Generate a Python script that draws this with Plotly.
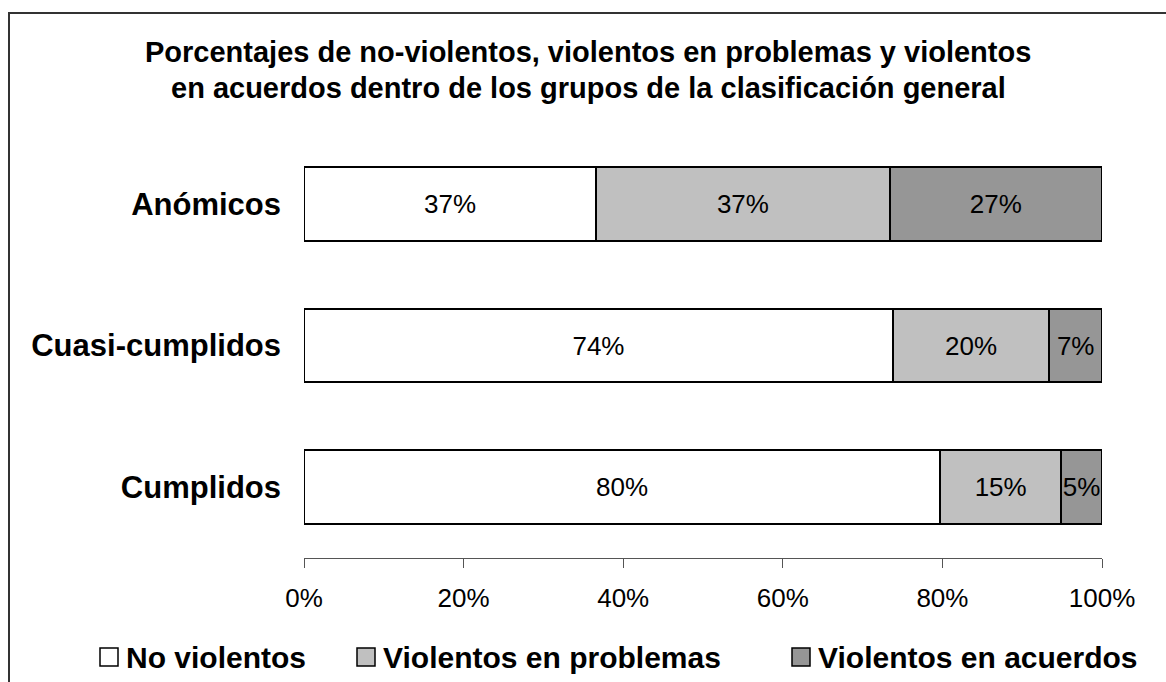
import plotly.graph_objects as go

# Groups of the general classification (top to bottom)
categories = ["Anómicos", "Cuasi-cumplidos", "Cumplidos"]

# Percentage of each violence profile within every group
no_violentos = [36.6, 73.8, 79.7]
violentos_problemas = [36.8, 19.6, 15.2]
violentos_acuerdos = [26.6, 6.6, 5.1]

series_names = ["No violentos", "Violentos en problemas", "Violentos en acuerdos"]
series_values = [no_violentos, violentos_problemas, violentos_acuerdos]
series_colors = ["#FFFFFF", "#C0C0C0", "#969696"]

x_ticks = [0, 20, 40, 60, 80, 100]

FONT = "Liberation Sans, Arial, sans-serif"
W, H = 1166, 682
ML, MR, MT, MB = 304, 64, 133, 124
PW, PH = W - ML - MR, H - MT - MB


def px_x(px):
    return (px - ML) / PW


def px_y(py):
    return (H - MB - py) / PH


fig = go.Figure()
for name, vals, color in zip(series_names, series_values, series_colors):
    fig.add_trace(go.Bar(
        y=categories,
        x=vals,
        name=name,
        orientation="h",
        marker=dict(color=color, line=dict(color="#000000", width=2)),
        texttemplate="%{x:.0f}%",
        textposition="inside",
        insidetextanchor="middle",
        textangle=0,
        textfont=dict(family=FONT, size=26, color="#000000"),
        cliponaxis=False,
        showlegend=False,
    ))

# Outer chart frame
fig.add_shape(type="rect", xref="paper", yref="paper",
              x0=px_x(9), x1=px_x(1175), y0=px_y(13), y1=px_y(695),
              line=dict(color="#333333", width=2), fillcolor="rgba(0,0,0,0)",
              layer="below")

# Title, two lines
title_lines = [
    "Porcentajes de no-violentos, violentos en problemas y violentos",
    "en acuerdos dentro de los grupos de la clasificación general",
]
for line, cy in zip(title_lines, [52, 88]):
    fig.add_annotation(text="<b>%s</b>" % line, xref="paper", yref="paper",
                       x=px_x(588), y=px_y(cy), xanchor="center", yanchor="middle",
                       showarrow=False,
                       font=dict(family=FONT, size=29, color="#000000"))

# Legend drawn as boxes with labels along the bottom
legend_box_x = [100, 357, 792]
legend_cy = 657
box = 18
for name, color, bx in zip(series_names, series_colors, legend_box_x):
    fig.add_shape(type="rect", xref="paper", yref="paper",
                  x0=px_x(bx), x1=px_x(bx + box),
                  y0=px_y(legend_cy + box / 2), y1=px_y(legend_cy - box / 2),
                  line=dict(color="#000000", width=1.5), fillcolor=color)
    fig.add_annotation(text="<b>%s</b>" % name, xref="paper", yref="paper",
                       x=px_x(bx + box + 6), y=px_y(legend_cy),
                       xanchor="left", yanchor="middle", showarrow=False,
                       font=dict(family=FONT, size=30, color="#000000"))

fig.update_layout(
    width=W, height=H,
    margin=dict(l=ML, r=MR, t=MT, b=MB),
    paper_bgcolor="#FFFFFF", plot_bgcolor="#FFFFFF",
    barmode="stack",
    bargap=0.478,
    uniformtext=dict(minsize=26, mode="show"),
    xaxis=dict(
        range=[0, 100],
        tickvals=x_ticks,
        ticktext=["%d%%" % t for t in x_ticks],
        showgrid=False, zeroline=False,
        showline=True, linecolor="#555555", linewidth=1,
        ticks="outside", ticklen=9, tickcolor="#555555", tickwidth=1,
        ticklabelstandoff=8,
        tickfont=dict(family=FONT, size=26, color="#000000"),
        anchor="free", position=0,
    ),
    yaxis=dict(
        autorange="reversed",
        showgrid=False, zeroline=False, showline=False,
        ticks="", ticklabelstandoff=22,
        tickfont=dict(family=FONT, size=31, color="#000000"),
    ),
)
fig.update_yaxes(tickprefix="<b>", ticksuffix="</b>")

fig.write_html("out.html")
